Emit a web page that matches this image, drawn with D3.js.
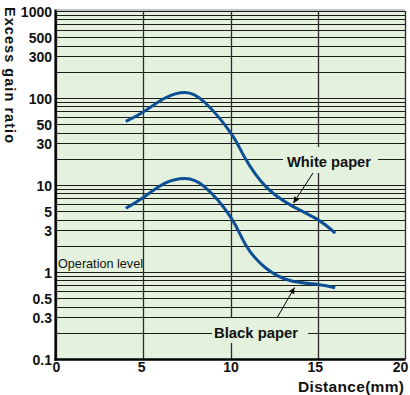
<!DOCTYPE html>
<html>
<head>
<meta charset="utf-8">
<script src="https://cdn.jsdelivr.net/npm/d3@7"></script>
<style>
  html, body { margin: 0; padding: 0; background: #ffffff; }
  svg { display: block; font-family: "Liberation Sans", Arial, sans-serif; }
</style>
</head>
<body>
<svg id="chart" width="410" height="395"></svg>
<script>
// ---- data ----
const whiteDist  = [4, 5, 6.25, 7.4, 8.5, 10, 10.8, 12, 13.5, 15, 16];
const whiteGain  = [54, 69, 100, 116, 90, 40, 21, 9.7, 5.8, 4.0, 2.8];
const blackDist  = [4, 5, 6.25, 7.4, 8.5, 10, 10.9, 12, 13.4, 15, 16];
const blackGain  = [5.4, 7.2, 10.5, 11.9, 9.6, 4.3, 2.0, 1.12, 0.8, 0.72, 0.66];
const xTickValues = [0, 5, 10, 15, 20];
const xTickLabels = ["0", "5", "10", "15", "20"];
const yTickValues = [1000, 500, 300, 100, 50, 30, 10, 5, 3, 1, 0.5, 0.3, 0.1];
const yTickLabels = ["1000", "500", "300", "100", "50", "30", "10", "5", "3", "1", "0.5", "0.3", "0.1"];
const yTitle = "Excess gain ratio";
const xTitle = "Distance(mm)";
const opLevelText = "Operation level";
const whiteLabel = "White paper";
const blackLabel = "Black paper";

// ---- layout ----
const svg = d3.select("#chart");
const x = d3.scaleLinear().domain([0, 20]).range([56, 405]);
const y = d3.scaleLog().domain([0.1, 1000]).range([359, 11]);

const bg = "#e3f1dd";
const curveColor = "#0c4f95";

// plot background
svg.append("rect")
  .attr("x", x(0)).attr("y", y(1000))
  .attr("width", x(20) - x(0)).attr("height", y(0.1) - y(1000))
  .attr("fill", bg);

// horizontal grid lines (log minor ticks)
svg.append("g").selectAll("line")
  .data(y.ticks())
  .join("line")
  .attr("x1", x(0)).attr("x2", x(20))
  .attr("y1", d => Math.round(y(d)) + 0.5).attr("y2", d => Math.round(y(d)) + 0.5)
  .attr("stroke", "#1c1c1c").attr("stroke-width", 1.1);

// vertical grid lines
svg.append("g").selectAll("line")
  .data(xTickValues)
  .join("line")
  .attr("x1", d => Math.round(x(d)) + 0.5).attr("x2", d => Math.round(x(d)) + 0.5)
  .attr("y1", y(1000)).attr("y2", y(0.1))
  .attr("stroke", "#2a2a2a").attr("stroke-width", 1.3);

// label backgrounds masking grid
svg.append("rect").attr("x", 283).attr("y", 147).attr("width", 95).attr("height", 26).attr("fill", bg);
svg.append("rect").attr("x", 212).attr("y", 318).attr("width", 96).attr("height", 25).attr("fill", bg);

// curves
const line = d3.line()
  .x(d => x(d[0])).y(d => y(d[1]))
  .curve(d3.curveNatural);
svg.append("path")
  .datum(whiteDist.map((d, i) => [d, whiteGain[i]]))
  .attr("d", line).attr("fill", "none")
  .attr("stroke", curveColor).attr("stroke-width", 3).attr("stroke-linecap", "butt");
svg.append("path")
  .datum(blackDist.map((d, i) => [d, blackGain[i]]))
  .attr("d", line).attr("fill", "none")
  .attr("stroke", curveColor).attr("stroke-width", 3).attr("stroke-linecap", "butt");

// frame
svg.append("line").attr("x1", x(0)).attr("x2", x(20)).attr("y1", y(1000) - 1).attr("y2", y(1000) - 1)
  .attr("stroke", "#8a8a8a").attr("stroke-width", 1);
svg.append("line").attr("x1", x(0) - 0.5).attr("x2", x(0) - 0.5).attr("y1", y(1000) - 1.5).attr("y2", y(0.1) + 2)
  .attr("stroke", "#000").attr("stroke-width", 2.2);
svg.append("line").attr("x1", x(0) - 1.5).attr("x2", x(20) + 0.5).attr("y1", y(0.1) + 0.5).attr("y2", y(0.1) + 0.5)
  .attr("stroke", "#000").attr("stroke-width", 2.5);

// y axis labels
const yAxis = d3.axisLeft(y)
  .tickValues(yTickValues)
  .tickFormat((d, i) => yTickLabels[i])
  .tickSize(0).tickPadding(4);
const gy = svg.append("g").attr("transform", `translate(${x(0)},0)`).call(yAxis);
gy.select(".domain").remove();
gy.selectAll("text")
  .attr("font-family", "'Liberation Sans', Arial, sans-serif")
  .attr("font-size", 14).attr("font-weight", "bold").attr("fill", "#111")
  .attr("dy", "0.38em");

// x axis labels
const xAxis = d3.axisBottom(x)
  .tickValues(xTickValues)
  .tickFormat((d, i) => xTickLabels[i])
  .tickSize(0).tickPadding(3);
const gx = svg.append("g").attr("transform", `translate(0,${y(0.1)})`).call(xAxis);
gx.select(".domain").remove();
gx.selectAll("text")
  .attr("font-family", "'Liberation Sans', Arial, sans-serif")
  .attr("font-size", 14).attr("font-weight", "bold").attr("fill", "#111")
  .attr("dx", d => d === 20 ? -5 : (d === 15 ? -3 : (d === 5 ? -2 : 0)));

// axis titles
svg.append("text")
  .attr("transform", "translate(5,7) rotate(90)")
  .attr("font-size", 14.5).attr("font-weight", "bold").attr("fill", "#111")
  .attr("textLength", 136).attr("lengthAdjust", "spacing")
  .text(yTitle);
svg.append("text")
  .attr("x", 298).attr("y", 392)
  .attr("font-size", 15.5).attr("font-weight", "bold").attr("fill", "#111")
  .attr("textLength", 106).attr("lengthAdjust", "spacing")
  .text(xTitle);

// Operation level
svg.append("text")
  .attr("x", 58).attr("y", 268)
  .attr("font-size", 13).attr("fill", "#111")
  .attr("textLength", 85).attr("lengthAdjust", "spacingAndGlyphs")
  .text(opLevelText);

// curve labels
svg.append("text").attr("x", 287).attr("y", 167)
  .attr("font-size", 15).attr("font-weight", "bold").attr("fill", "#111")
  .attr("textLength", 84).attr("lengthAdjust", "spacingAndGlyphs")
  .text(whiteLabel);
svg.append("text").attr("x", 214).attr("y", 338)
  .attr("font-size", 15).attr("font-weight", "bold").attr("fill", "#111")
  .attr("textLength", 84).attr("lengthAdjust", "spacingAndGlyphs")
  .text(blackLabel);

// arrows
const defs = svg.append("defs");
defs.append("marker").attr("id", "ah")
  .attr("viewBox", "0 0 10 10").attr("refX", 10).attr("refY", 5)
  .attr("markerWidth", 8).attr("markerHeight", 6).attr("markerUnits", "userSpaceOnUse")
  .attr("orient", "auto")
  .append("path").attr("d", "M0,0 L10,5 L0,10 Z").attr("fill", "#000");

svg.append("line").attr("x1", 313).attr("y1", 173).attr("x2", 293.5).attr("y2", 203)
  .attr("stroke", "#000").attr("stroke-width", 1).attr("marker-end", "url(#ah)");
svg.append("line").attr("x1", 277).attr("y1", 318).attr("x2", 294.5).attr("y2", 287.5)
  .attr("stroke", "#000").attr("stroke-width", 1).attr("marker-end", "url(#ah)");
</script>
</body>
</html>
